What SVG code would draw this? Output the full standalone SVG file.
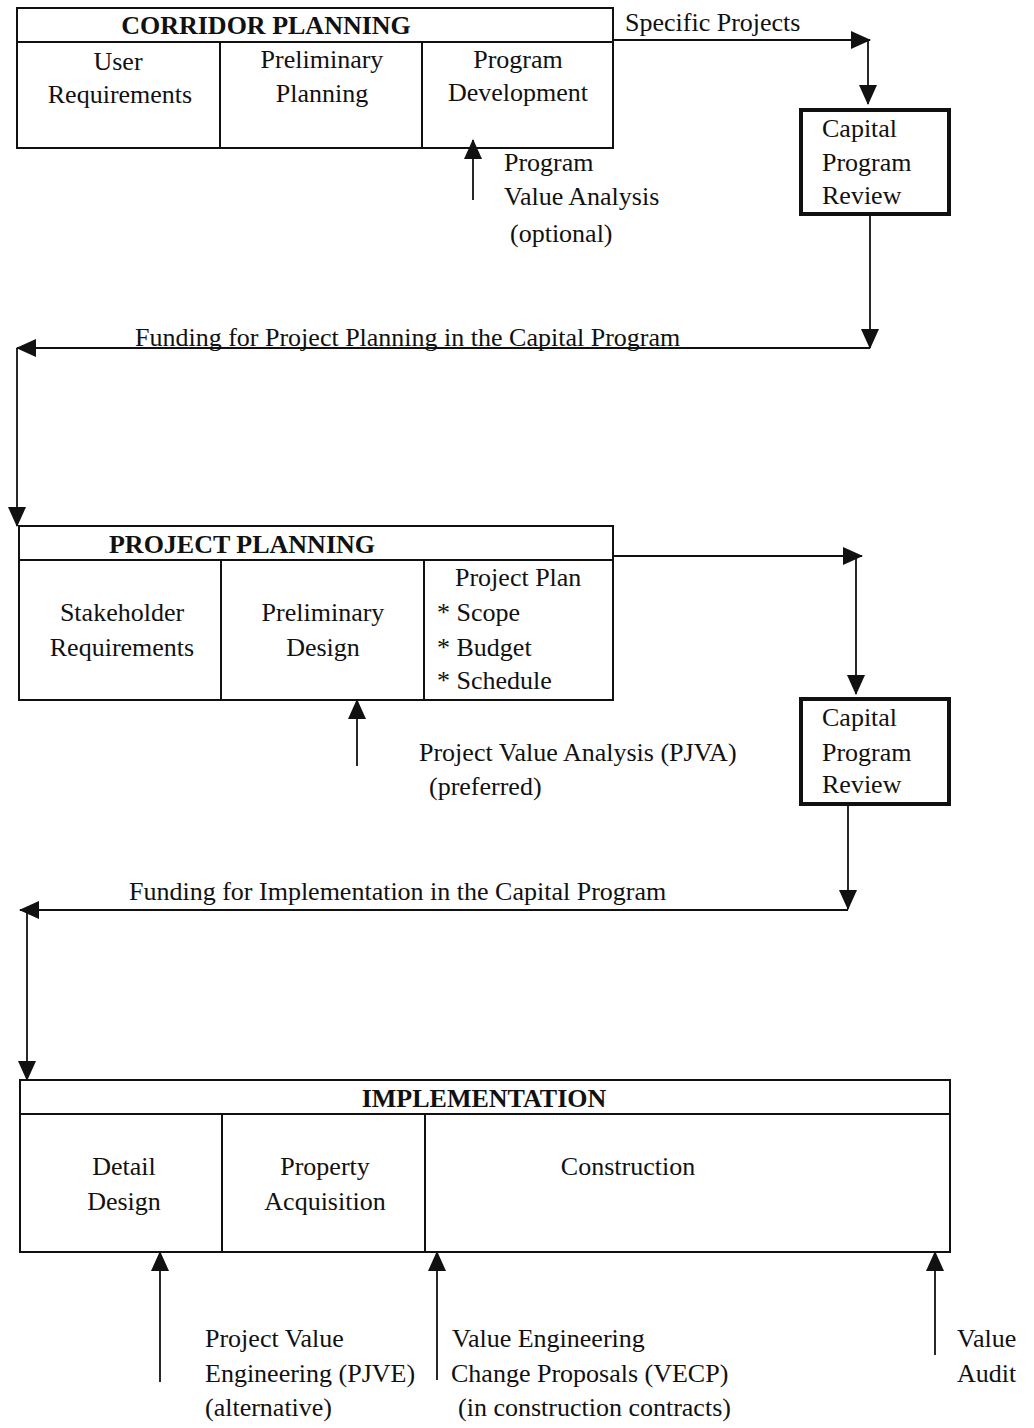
<svg xmlns="http://www.w3.org/2000/svg" width="1034" height="1428" viewBox="0 0 1034 1428">
<style>
text{font-family:"Liberation Serif","Times New Roman",serif;font-size:26px;fill:#111}
.h{font-weight:bold;font-size:26px}
.m{text-anchor:middle}
.box{fill:none;stroke:#111;stroke-width:2}
.cap{fill:#fff;stroke:#111;stroke-width:4}
.c{fill:none;stroke:#111;stroke-width:1.8}
</style>
<defs>
<marker id="ah" markerUnits="userSpaceOnUse" markerWidth="20" markerHeight="18" viewBox="0 0 20 18" refX="19" refY="9" orient="auto">
<path d="M0,0 L20,9 L0,18 Z" fill="#111"/>
</marker>
</defs>
<rect width="1034" height="1428" fill="#fff"/>

<g id="corridor-planning">
<rect class="box" x="17" y="8" width="596" height="140"/>
<line class="box" x1="17" y1="42" x2="613" y2="42"/>
<line class="box" x1="220" y1="42" x2="220" y2="148"/>
<line class="box" x1="422" y1="42" x2="422" y2="148"/>
<text class="h m" x="266" y="34">CORRIDOR PLANNING</text>
<text class="m" x="118" y="70">User</text>
<text class="m" x="120" y="103">Requirements</text>
<text class="m" x="322" y="68">Preliminary</text>
<text class="m" x="322" y="102">Planning</text>
<text class="m" x="518" y="68">Program</text>
<text class="m" x="518" y="101">Development</text>
</g>

<g id="capital-review-1">
<rect class="cap" x="801" y="110" width="148" height="104"/>
<text x="822" y="137">Capital</text>
<text x="822" y="171">Program</text>
<text x="822" y="204">Review</text>
</g>

<g id="project-planning">
<rect class="box" x="19" y="526" width="594" height="174"/>
<line class="box" x1="19" y1="560" x2="613" y2="560"/>
<line class="box" x1="221" y1="560" x2="221" y2="700"/>
<line class="box" x1="424" y1="560" x2="424" y2="700"/>
<text class="h m" x="242" y="553">PROJECT PLANNING</text>
<text class="m" x="122" y="621">Stakeholder</text>
<text class="m" x="122" y="656">Requirements</text>
<text class="m" x="323" y="621">Preliminary</text>
<text class="m" x="323" y="656">Design</text>
<text x="455" y="586">Project Plan</text>
<text x="437" y="621">* Scope</text>
<text x="437" y="656">* Budget</text>
<text x="437" y="689">* Schedule</text>
</g>

<g id="capital-review-2">
<rect class="cap" x="801" y="699" width="148" height="105"/>
<text x="822" y="726">Capital</text>
<text x="822" y="761">Program</text>
<text x="822" y="793">Review</text>
</g>

<g id="implementation">
<rect class="box" x="20" y="1080" width="930" height="172"/>
<line class="box" x1="20" y1="1114" x2="950" y2="1114"/>
<line class="box" x1="222" y1="1114" x2="222" y2="1252"/>
<line class="box" x1="425" y1="1114" x2="425" y2="1252"/>
<text class="h m" x="484" y="1107">IMPLEMENTATION</text>
<text class="m" x="124" y="1175">Detail</text>
<text class="m" x="124" y="1210">Design</text>
<text class="m" x="325" y="1175">Property</text>
<text class="m" x="325" y="1210">Acquisition</text>
<text class="m" x="628" y="1175">Construction</text>
</g>

<g id="connectors">
<line class="c" x1="613" y1="40" x2="870" y2="40" marker-end="url(#ah)"/>
<line class="c" x1="868" y1="40" x2="868" y2="104" marker-end="url(#ah)"/>
<line class="c" x1="473" y1="200" x2="473" y2="140" marker-end="url(#ah)"/>
<line class="c" x1="870" y1="214" x2="870" y2="348" marker-end="url(#ah)"/>
<line class="c" x1="870" y1="348" x2="17" y2="348" marker-end="url(#ah)"/>
<line class="c" x1="17" y1="348" x2="17" y2="526" marker-end="url(#ah)"/>
<line class="c" x1="613" y1="556" x2="862" y2="556" marker-end="url(#ah)"/>
<line class="c" x1="856" y1="556" x2="856" y2="694" marker-end="url(#ah)"/>
<line class="c" x1="357" y1="766" x2="357" y2="700" marker-end="url(#ah)"/>
<line class="c" x1="848" y1="804" x2="848" y2="909" marker-end="url(#ah)"/>
<line class="c" x1="848" y1="910" x2="20" y2="910" marker-end="url(#ah)"/>
<line class="c" x1="27" y1="910" x2="27" y2="1080" marker-end="url(#ah)"/>
<line class="c" x1="160" y1="1382" x2="160" y2="1252" marker-end="url(#ah)"/>
<line class="c" x1="437" y1="1380" x2="437" y2="1252" marker-end="url(#ah)"/>
<line class="c" x1="935" y1="1355" x2="935" y2="1252" marker-end="url(#ah)"/>
</g>

<g id="labels">
<text x="625" y="31">Specific Projects</text>
<text x="504" y="171">Program</text>
<text x="504" y="205">Value Analysis</text>
<text x="510" y="242">(optional)</text>
<text x="135" y="346">Funding for Project Planning in the Capital Program</text>
<text x="419" y="761">Project Value Analysis (PJVA)</text>
<text x="429" y="795">(preferred)</text>
<text x="129" y="900">Funding for Implementation in the Capital Program</text>
<text x="205" y="1347">Project Value</text>
<text x="205" y="1382">Engineering (PJVE)</text>
<text x="205" y="1416">(alternative)</text>
<text x="452" y="1347">Value Engineering</text>
<text x="451" y="1382">Change Proposals (VECP)</text>
<text x="458" y="1416">(in construction contracts)</text>
<text x="957" y="1347">Value</text>
<text x="957" y="1382">Audit</text>
</g>
</svg>
